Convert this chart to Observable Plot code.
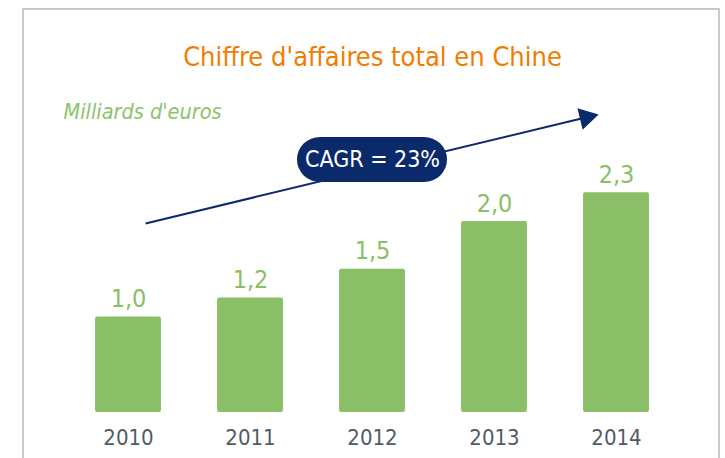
<!DOCTYPE html>
<html>
<head>
<meta charset="utf-8">
<script src="https://cdn.jsdelivr.net/npm/d3@7"></script>
<script src="https://cdn.jsdelivr.net/npm/@observablehq/plot@0.6"></script>
<style>
  html, body { margin: 0; padding: 0; background: #fff; overflow: hidden; }
  #wrap { position: relative; width: 725px; height: 458px; }
  #border { position: absolute; left: 22px; top: 8px; width: 698px; height: 470px; border: 2px solid #c9c9c9; box-sizing: border-box; }
  #chart { position: absolute; left: 0; top: 0; }
</style>
</head>
<body>
<div id="wrap"><div id="border"></div><div id="chart"></div></div>
<script>
const years = [2010, 2011, 2012, 2013, 2014];
const values = [1.0, 1.2, 1.5, 2.0, 2.3];
const title = "Chiffre d'affaires total en Chine";
const subtitle = "Milliards d'euros";
const cagrLabel = "CAGR = 23%";
// trend arrow annotation (data coordinates)
const arrowStart = {x: 2010.14, y: 1.98};
const arrowEnd = {x: 2013.73, y: 3.083};
const arrowHead = {x: 2013.752, y: 3.089};
const pill = {x: 2012, y1: 2.408, y2: 2.88, half: 0.615};

const data = years.map((year, i) => ({year, value: values[i]}));
const font = "'Liberation Sans Narrow', 'Arial Narrow', 'DejaVu Sans Condensed', sans-serif";
const green = "#8abe67";
const navy = "#0b2a6b";
const fmt = v => v.toFixed(1).replace(".", ",");

const plot = Plot.plot({
  width: 725,
  height: 458,
  marginTop: 30,
  marginBottom: 46,
  marginLeft: 67,
  marginRight: 48,
  style: {fontFamily: font, background: "transparent", overflow: "visible"},
  x: {domain: [2009.5, 2014.5], ticks: years, tickFormat: d => String(d), tickSize: 0, label: null},
  y: {domain: [0, 4], axis: null},
  marks: [
    Plot.axisX({ticks: years, tickFormat: d => String(d), tickSize: 0, tickPadding: 17, fontSize: 22, color: "#4f5b66", label: null}),
    Plot.rectY(data, {x1: d => d.year - 0.27, x2: d => d.year + 0.27, y: "value", fill: green, rx: 2}),
    Plot.text(data, {x: "year", y: "value", text: d => fmt(d.value), dy: -10, lineAnchor: "bottom", fill: green, fontSize: 25}),
    Plot.link([arrowStart], {x1: arrowStart.x, y1: arrowStart.y, x2: arrowEnd.x, y2: arrowEnd.y, stroke: navy, strokeWidth: 2}),
    Plot.dot([arrowHead], {x: "x", y: "y", symbol: "triangle", r: 8.2, fill: navy, stroke: "none", rotate: 76.5}),
    Plot.rect([pill], {x1: d => d.x - d.half, x2: d => d.x + d.half, y1: "y1", y2: "y2", fill: navy, rx: 23, ry: 23}),
    Plot.text([pill], {x: "x", y: d => (d.y1 + d.y2) / 2, text: () => cagrLabel, fill: "white", fontSize: 23}),
    Plot.text([title], {frameAnchor: "top", text: d => d, dy: 16, fill: "#f07d00", fontSize: 27}),
    Plot.text([subtitle], {frameAnchor: "top-left", text: d => d, dx: -4, dy: 73, fill: "#8dc26a", fontSize: 21.5, fontStyle: "italic", textAnchor: "start"})
  ]
});
document.getElementById("chart").appendChild(plot);
</script>
</body>
</html>
